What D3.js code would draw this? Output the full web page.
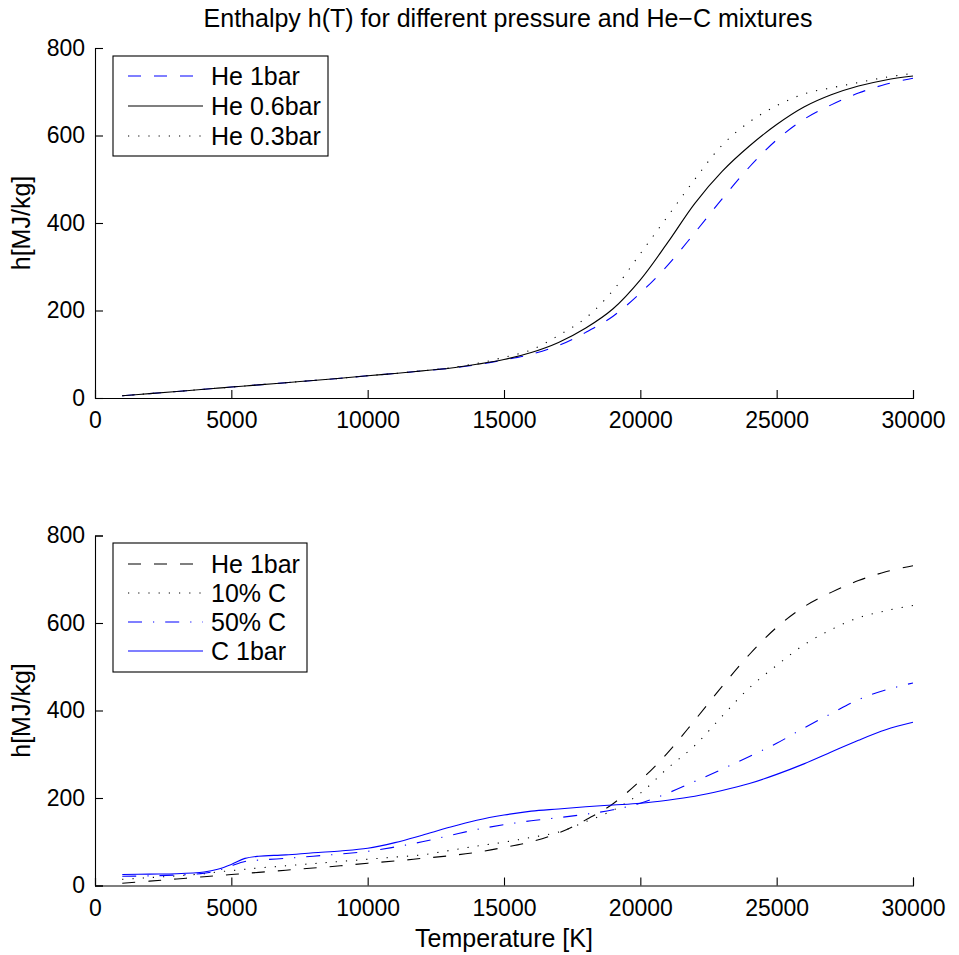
<!DOCTYPE html>
<html><head><meta charset="utf-8">
<script src="https://cdn.jsdelivr.net/npm/d3@7"></script>
<style>
html,body{margin:0;padding:0;background:#fff;}
text{font-family:"Liberation Sans",Arial,sans-serif;fill:#000;}
</style></head>
<body>
<svg id="chart" width="959" height="955"></svg>
<script>
// ---- data ----
const temperature = [1000,2000,3000,4000,4500,5000,5500,6000,7000,8000,9000,10000,11000,12000,13000,14000,15000,16000,17000,18000,19000,20000,21000,22000,23000,24000,25000,26000,27000,28000,29000,30000];
const he1bar   = [5,10,15,20,22.5,25,27.5,30,35,40,45,51,56,62,68,76,87,100,120,150,187,240,303,378,455,528,590,637,670,697,717,731];
const he06bar  = [5,10,15,20,22.5,25,27.5,30,35,40,45,51,56,62,68,77,88,104,127,160,204,270,355,445,518,576,625,665,693,713,727,736];
const he03bar  = [5,10,15,20,22.5,25,27.5,30,35,40,45,51,56,62,69,79,93,110,143,183,246,330,415,500,578,631,668,695,709,721,733,742];
const c10      = [14,18,22,27,31,34,37,40,45,50,55,60,65,70,80,90,99,110,122,146,172,211,268,320,387,452,503,550,585,612,628,640];
const c50      = [21,22,24,28,34,45,55,58,62,67,72,78,88,100,114,128,139,148,155,163,173,188,211,238,266,295,325,360,393,425,447,463];
const c1bar    = [25,26,27,31,37,48,62,67,70,75,79,85,98,115,133,149,161,170,175,180,184,188,195,204,217,233,254,278,305,332,356,373];
const xTicks = [0,5000,10000,15000,20000,25000,30000];
const yTicks = [0,200,400,600,800];
const titleText = "Enthalpy h(T) for different pressure and He\u2212C mixtures";
const yLabel = "h[MJ/kg]";
const xLabel = "Temperature [K]";

const topSeries = [
  {name:"He 1bar",   values:he1bar,  color:"#0000ff", dash:"13,13"},
  {name:"He 0.6bar", values:he06bar, color:"#000000", dash:null},
  {name:"He 0.3bar", values:he03bar, color:"#000000", dash:"1.2,9"}
];
const botSeries = [
  {name:"He 1bar", values:he1bar, color:"#000000", dash:"13,13"},
  {name:"10% C",   values:c10,    color:"#000000", dash:"1.2,9"},
  {name:"50% C",   values:c50,    color:"#0000ff", dash:"14,11,1.2,11"},
  {name:"C 1bar",  values:c1bar,  color:"#0000ff", dash:null}
];

const svg = d3.select("#chart");
const left = 95, right = 913;
const x = d3.scaleLinear().domain([0,30000]).range([left,right]);

function panel(top, bottom, series, legendBox, legendSpacing, showXLabel){
  const y = d3.scaleLinear().domain([0,800]).range([bottom, top]);
  const g = svg.append("g");
  const xa = g.append("g").attr("transform",`translate(0,${bottom})`)
    .call(d3.axisBottom(x).tickValues(xTicks).tickSize(-8).tickPadding(14).tickFormat(d3.format("d")));
  const ya = g.append("g").attr("transform",`translate(${left},0)`)
    .call(d3.axisLeft(y).tickValues(yTicks).tickSize(-8).tickPadding(10).tickFormat(d3.format("d")));
  [xa,ya].forEach(a=>{
    a.selectAll(".domain").attr("stroke","#000").attr("stroke-width",1.1);
    a.selectAll(".tick line").attr("stroke","#000").attr("stroke-width",1.1);
    a.selectAll("text").style("font-size","23px").attr("fill","#000");
  });
  xa.selectAll("text").attr("y",30).attr("dy","0");
  g.append("text").attr("transform",`translate(30,${(top+bottom)/2}) rotate(-90)`)
    .attr("text-anchor","middle").style("font-size","25px").text(yLabel);
  if(showXLabel){
    g.append("text").attr("x",(left+right)/2).attr("y",bottom+61)
      .attr("text-anchor","middle").style("font-size","25px").text(xLabel);
  }
  const line = d3.line().x((d,i)=>x(temperature[i])).y(d=>y(d)).curve(d3.curveCatmullRom.alpha(0.5));
  series.forEach(s=>{
    g.append("path").datum(s.values).attr("d",line).attr("fill","none")
      .attr("stroke",s.color).attr("stroke-width",1.1)
      .attr("stroke-dasharray",s.dash);
  });
  const lg = g.append("g");
  lg.append("rect").attr("x",legendBox.x).attr("y",legendBox.y)
    .attr("width",legendBox.w).attr("height",legendBox.h)
    .attr("fill","#fff").attr("stroke","#000").attr("stroke-width",1.1);
  series.forEach((s,i)=>{
    const yy = legendBox.y + legendBox.first + i*legendSpacing;
    lg.append("line").attr("x1",legendBox.x+15).attr("x2",legendBox.x+90)
      .attr("y1",yy).attr("y2",yy).attr("stroke",s.color).attr("stroke-width",1.1)
      .attr("stroke-dasharray",s.dash);
    lg.append("text").attr("x",legendBox.x+98).attr("y",yy).attr("dy","0.36em")
      .style("font-size","25px").text(s.name);
  });
}

panel(48, 398, topSeries, {x:113,y:56,w:215,h:100,first:20}, 30, false);
panel(535.5, 885.5, botSeries, {x:113,y:543,w:194,h:129,first:21}, 29, true);

svg.append("text").attr("x",508).attr("y",27).attr("text-anchor","middle")
  .style("font-size","25px").text(titleText);
</script>
</body></html>
